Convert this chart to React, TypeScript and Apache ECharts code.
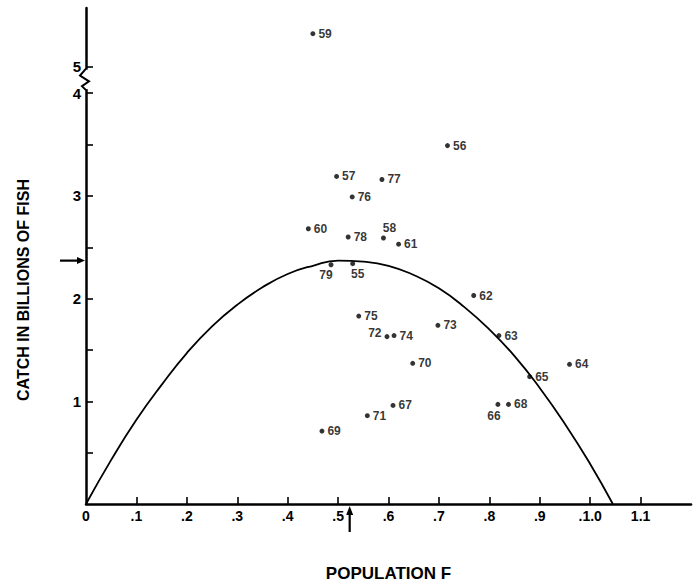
import React, { useEffect, useRef } from "react";
import * as echarts from "echarts";

// ---- data ----
const years = ["55","56","57","58","59","60","61","62","63","64","65","66","67","68","69","70","71","72","73","74","75","76","77","78","79"];
const popF = [0.529,0.717,0.497,0.590,0.450,0.441,0.620,0.769,0.819,0.959,0.880,0.817,0.609,0.838,0.468,0.648,0.558,0.597,0.698,0.611,0.541,0.528,0.587,0.520,0.486];
const catchB = [2.34,3.49,3.19,2.59,5.32,2.68,2.53,2.03,1.64,1.36,1.24,0.97,0.96,0.97,0.71,1.37,0.86,1.63,1.74,1.64,1.83,2.99,3.16,2.60,2.33];

// fitted yield curve
const curveF = [0,0.05,0.1,0.15,0.2,0.25,0.3,0.35,0.4,0.45,0.5,0.55,0.6,0.65,0.7,0.75,0.8,0.85,0.9,0.95,1.0,1.045];
const curveC = [0,0.43,0.82,1.16,1.47,1.73,1.94,2.11,2.24,2.32,2.37,2.36,2.32,2.23,2.10,1.92,1.70,1.44,1.13,0.78,0.39,0];

// axis ticks / labels
const xTickValues = [0.1,0.2,0.3,0.4,0.5,0.6,0.7,0.8,0.9,1.0,1.1];
const xLabelValues = [0,0.1,0.2,0.3,0.4,0.5,0.6,0.7,0.8,0.9,1.0,1.1];
const xLabelTexts = ["0",".1",".2",".3",".4",".5",".6",".7",".8",".9",".1.0","1.1"];
const yTickValues = [0.5,1,1.5,2,2.5,3,3.5,4,5];
const yLabelValues = [1,2,3,4,5];
const yLabelTexts = ["1","2","3","4","5"];

// maximum sustainable yield markers
const msyCatch = 2.37;
const msyPop = 0.523;

// axis break: values at/above 5 are drawn compressed above 4
const breakAt = 5;
const breakShown = 4.26;
const shown = (v: number) => (v >= breakAt ? breakShown + (v - breakAt) : v);

const FONT = "Liberation Sans";

const labelPlacement: Record<string, any> = {
  "58": { position: "top", offset: [6, 1], distance: 3 },
  "79": { position: "bottom", offset: [-5, 0], distance: 2 },
  "55": { position: "bottom", offset: [5, 0], distance: 2 },
  "72": { position: "left", offset: [0, -4], distance: 3 },
  "66": { position: "bottom", offset: [-4, 0], distance: 3 },
};

export default function App() {
  const ref = useRef<HTMLDivElement>(null);
  useEffect(() => {
    if (!ref.current) return;
    const chart = echarts.init(ref.current, null, { renderer: "svg" });
    const pts = years.map((y, i) => ({
      name: y,
      value: [popF[i], shown(catchB[i])],
      label: labelPlacement[y] || { position: "right", distance: 3 },
    }));
    const findLabel = (v: number, vals: number[], txt: string[]) => {
      for (let i = 0; i < vals.length; i++) if (Math.abs(vals[i] - v) < 1e-6) return txt[i];
      return "";
    };
    chart.setOption({
      animation: false,
      backgroundColor: "#ffffff",
      grid: { left: 86, right: 2, top: 8, bottom: 78 },
      xAxis: {
        type: "value",
        min: 0,
        max: 1.2,
        splitLine: { show: false },
        axisLine: { onZero: false, lineStyle: { color: "#000", width: 2.5 } },
        axisTick: { inside: true, length: 7, customValues: xTickValues, lineStyle: { color: "#000", width: 1.6 } },
        axisLabel: {
          customValues: xLabelValues,
          formatter: (v: number) => findLabel(v, xLabelValues, xLabelTexts),
          color: "#000",
          fontFamily: FONT,
          fontWeight: "bold",
          fontSize: 14,
          margin: 5,
        },
        name: "POPULATION F",
        nameLocation: "middle",
        nameGap: 61,
        nameTextStyle: { color: "#000", fontFamily: FONT, fontWeight: "bold", fontSize: 17 },
      },
      yAxis: {
        type: "value",
        min: 0,
        max: 4.83,
        splitLine: { show: false },
        axisLine: { onZero: false, lineStyle: { color: "#000", width: 2.5 } },
        axisTick: {
          inside: true,
          length: 7,
          customValues: yTickValues.map(shown),
          lineStyle: { color: "#000", width: 1.6 },
        },
        axisLabel: {
          customValues: yLabelValues.map(shown),
          formatter: (v: number) => findLabel(v, yLabelValues.map(shown), yLabelTexts),
          color: "#000",
          fontFamily: FONT,
          fontWeight: "bold",
          fontSize: 15,
          margin: 5,
        },
      },
      series: [
        {
          type: "line",
          data: curveF.map((f, i) => [f, curveC[i]]),
          smooth: true,
          showSymbol: false,
          symbol: "none",
          lineStyle: { color: "#000", width: 1.8 },
          z: 2,
        },
        {
          type: "scatter",
          data: pts,
          symbol: "circle",
          symbolSize: 5,
          itemStyle: { color: "#000" },
          label: {
            show: true,
            formatter: (p: any) => p.name,
            color: "#000",
            fontFamily: FONT,
            fontWeight: "bold",
            fontSize: 12,
          },
          z: 3,
        },
      ],
    });

    const yArr = chart.convertToPixel({ gridIndex: 0 }, [0, msyCatch]) as number[];
    const xArr = chart.convertToPixel({ gridIndex: 0 }, [msyPop, 0]) as number[];
    const bTop = chart.convertToPixel({ gridIndex: 0 }, [0, 4.23]) as number[];
    const bBot = chart.convertToPixel({ gridIndex: 0 }, [0, 4.04]) as number[];
    const ax = bTop[0];
    const t = bTop[1];
    const b = bBot[1];
    const h = b - t;
    chart.setOption({
      graphic: [
        { type: "rect", shape: { x: ax - 5, y: t, width: 9, height: h }, style: { fill: "#fff" }, z: 100 },
        {
          type: "polyline",
          shape: {
            points: [
              [ax, t - 1],
              [ax - 6, t + h * 0.3],
              [ax + 3, t + h * 0.6],
              [ax - 4, t + h * 0.85],
              [ax, b + 1],
            ],
          },
          style: { stroke: "#000", lineWidth: 2, fill: null },
          z: 101,
        },
        { type: "line", shape: { x1: yArr[0] - 26, y1: yArr[1], x2: yArr[0] - 7, y2: yArr[1] }, style: { stroke: "#000", lineWidth: 2.2 }, z: 101 },
        {
          type: "polygon",
          shape: { points: [[yArr[0] - 9, yArr[1] - 3.5], [yArr[0] - 1, yArr[1]], [yArr[0] - 9, yArr[1] + 3.5]] },
          style: { fill: "#000" },
          z: 101,
        },
        { type: "line", shape: { x1: xArr[0], y1: xArr[1] + 28, x2: xArr[0], y2: xArr[1] + 9 }, style: { stroke: "#000", lineWidth: 2.2 }, z: 101 },
        {
          type: "polygon",
          shape: { points: [[xArr[0] - 3.5, xArr[1] + 11], [xArr[0], xArr[1] + 2], [xArr[0] + 3.5, xArr[1] + 11]] },
          style: { fill: "#000" },
          z: 101,
        },
        {
          type: "text",
          x: 23,
          y: 290,
          rotation: Math.PI / 2,
          style: {
            text: "CATCH IN BILLIONS OF FISH",
            fill: "#000",
            font: `bold 16px "${FONT}"`,
            align: "center",
            verticalAlign: "middle",
          },
          z: 101,
        },
      ],
    });
    return () => chart.dispose();
  }, []);
  return <div ref={ref} style={{ position: "absolute", left: 0, top: 0, width: 693, height: 587 }} />;
}
